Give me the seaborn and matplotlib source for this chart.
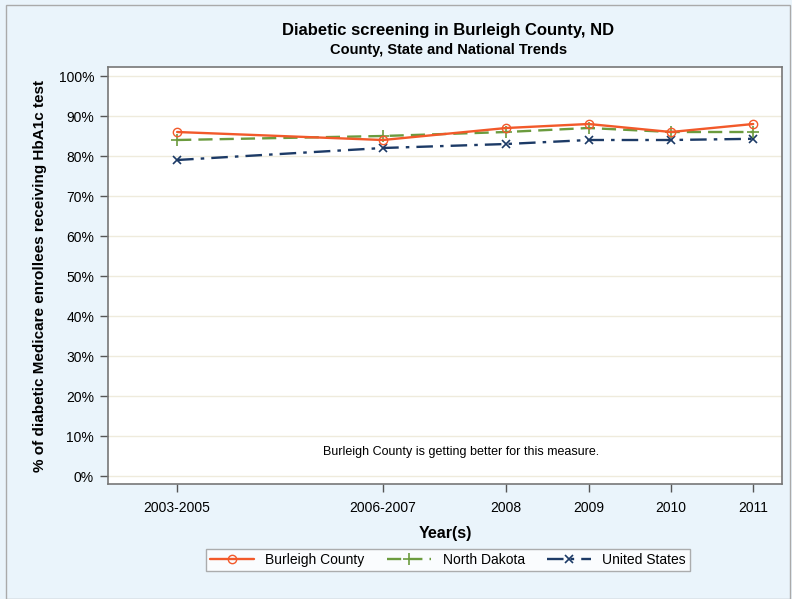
import matplotlib
matplotlib.use("Agg")
import matplotlib.pyplot as plt
import seaborn as sns
import pandas as pd
from matplotlib.patches import Rectangle

periods = ["2003-2005", "2006-2007", "2008", "2009", "2010", "2011"]
period_pos = [2004, 2006.5, 2008, 2009, 2010, 2011]
burleigh = [86, 84, 87, 88, 86, 88]
north_dakota = [84, 85, 86, 87, 86, 86]
united_states = [79, 82, 83, 84, 84, 84.3]
y_ticks = [0, 10, 20, 30, 40, 50, 60, 70, 80, 90, 100]

rows = []
for name, vals in [("Burleigh County", burleigh), ("North Dakota", north_dakota),
                   ("United States", united_states)]:
    for x, v in zip(period_pos, vals):
        rows.append({"pos": x, "value": v, "series": name})
df = pd.DataFrame(rows)

sns.set_theme(style="white")
plt.rcParams['font.family'] = ['Liberation Sans', 'DejaVu Sans']
plt.rcParams['text.color'] = 'black'
plt.rcParams['axes.labelcolor'] = 'black'
plt.rcParams['xtick.color'] = 'black'
plt.rcParams['ytick.color'] = 'black'

bg = "#EAF4FB"
fig = plt.figure(figsize=(7.92, 5.99), dpi=100, facecolor=bg)
ax = fig.add_axes([108/792, 1-484/599, (782-108)/792, (484-67)/599])
ax.set_facecolor("white")

colors = {"Burleigh County": "#F2592A", "North Dakota": "#6B9B3E", "United States": "#1C3A66"}
styles = {"Burleigh County": dict(ls="-", marker="o", lw=1.7, ms=6, mfc="none", mew=1.0),
          "North Dakota": dict(ls=(0, (6, 3)), marker="+", lw=1.7, ms=8, mew=1.2),
          "United States": dict(ls=(0, (7, 3, 1.5, 3)), marker="x", lw=1.7, ms=6, mew=1.2)}

for name in ["United States", "North Dakota", "Burleigh County"]:
    sub = df[df.series == name]
    sns.lineplot(data=sub, x="pos", y="value", ax=ax, color=colors[name], label=name,
                 mec=colors[name], **styles[name])

ax.set_xlim(2003.16, 2011.35)
ax.set_ylim(-2, 102.25)
ax.set_yticks(y_ticks)
ax.set_yticklabels([f"{t}%" for t in y_ticks], fontsize=10)
ax.set_xticks(period_pos)
ax.set_xticklabels(periods, fontsize=10)
for t in y_ticks:
    ax.axhline(t, color="#EFEBDC", lw=1, zorder=0)
ax.tick_params(axis="both", which="both", length=6, width=1, color="#555555",
               direction="out", bottom=True, left=True, pad=4)
ax.tick_params(axis="x", pad=6)
for s in ax.spines.values():
    s.set_color("#777777")
    s.set_linewidth(1.2)

ax.set_xlabel("Year(s)", fontsize=11.5, fontweight="bold", labelpad=8)
ax.set_ylabel("% of diabetic Medicare enrollees receiving HbA1c test",
              fontsize=11, fontweight="bold", labelpad=8)

ax.text(2007.45, 6, "Burleigh County is getting better for this measure.",
        ha="center", va="center", fontsize=9)

fig.text(0.566, 1-30/599, "Diabetic screening in Burleigh County, ND", ha="center",
         va="center", fontsize=12, fontweight="bold")
fig.text(0.566, 1-50/599, "County, State and National Trends", ha="center",
         va="center", fontsize=10.5, fontweight="bold")

handles, labels = ax.get_legend_handles_labels()
order = [labels.index(l) for l in ["Burleigh County", "North Dakota", "United States"]]
leg = ax.legend([handles[i] for i in order], [labels[i] for i in order],
                loc="center", bbox_to_anchor=(448/792, 1-560/599),
                bbox_transform=fig.transFigure, ncol=3, frameon=True, fancybox=False,
                fontsize=10, handlelength=3.2, columnspacing=1.6, borderpad=0.3,
                handletextpad=0.8)
leg.get_frame().set_edgecolor("#999999")
leg.get_frame().set_linewidth(1.0)

fig.patches.append(Rectangle((6/792, 0), 1 - 6/792 - 0.002, 1 - 5/599,
                             transform=fig.transFigure, fill=False,
                             edgecolor="#AAAAAA", lw=1))

fig.savefig("out.png", dpi=100, facecolor=bg)
